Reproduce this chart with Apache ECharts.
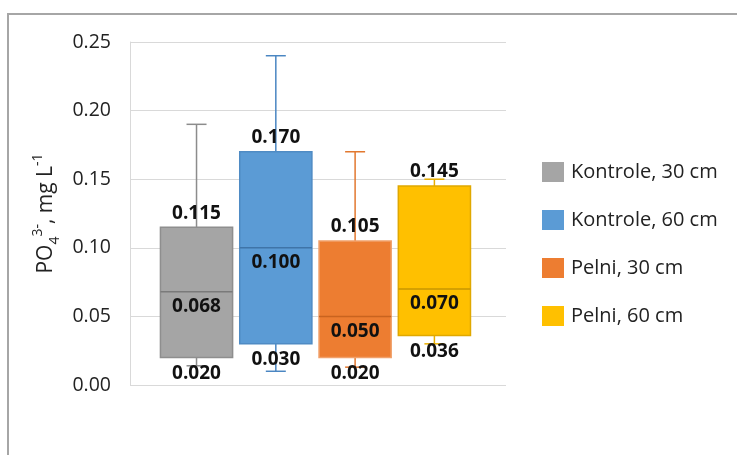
<!DOCTYPE html>
<html>
<head>
<meta charset="utf-8">
<script src="https://cdn.jsdelivr.net/npm/echarts@6/dist/echarts.min.js"></script>
<style>
html,body{margin:0;padding:0;background:#fff;}
#chart{width:737px;height:455px;}
</style>
</head>
<body>
<div id="chart"></div>
<script>
// ---- data ----
const categories = ['Kontrole, 30 cm', 'Kontrole, 60 cm', 'Pelni, 30 cm', 'Pelni, 60 cm'];
const minVals    = [0.014, 0.010, 0.013, 0.030];
const q1Vals     = [0.020, 0.030, 0.020, 0.036];
const medianVals = [0.068, 0.100, 0.050, 0.070];
const q3Vals     = [0.115, 0.170, 0.105, 0.145];
const maxVals    = [0.190, 0.240, 0.170, 0.150];
const yMin = 0, yMax = 0.25, yStep = 0.05;

// ---- styles ----
const fills   = ['#A5A5A5', '#5B9BD5', '#ED7D31', '#FFC000'];
const borders = ['#8E8E8E', '#4F8BC4', '#F1A06A', '#E0A800'];
const medians = ['#7A7A7A', '#3F74A8', '#C9631F', '#C99700'];
const whisk   = ['#8C8C8C', '#4A86C2', '#E2782F', '#E8AE00'];

const chart = echarts.init(document.getElementById('chart'), null, {renderer: 'canvas'});

function makeRender(idx) {
  return function (params, api) {
    const x = api.value(0);
    const pMin = api.coord([x, api.value(1)]);
    const pQ1 = api.coord([x, api.value(2)]);
    const pMed = api.coord([x, api.value(3)]);
    const pQ3 = api.coord([x, api.value(4)]);
    const pMax = api.coord([x, api.value(5)]);
    const cx = pQ1[0];
    const half = api.size([1, 0])[0] * 0.455;
    const cap = 10;
    const wStyle = {stroke: whisk[idx], lineWidth: 1.5};
    const lbl = (v, y) => ({
      type: 'text', z2: 10,
      style: {
        x: cx, y: y, text: v.toFixed(3), align: 'center', verticalAlign: 'middle',
        font: 'bold 19px "Open Sans", sans-serif', fill: '#111'
      }
    });
    return {
      type: 'group',
      children: [
        {type: 'line', shape: {x1: cx, y1: pQ3[1], x2: cx, y2: pMax[1]}, style: wStyle},
        {type: 'line', shape: {x1: cx - cap, y1: pMax[1], x2: cx + cap, y2: pMax[1]}, style: wStyle},
        {type: 'line', shape: {x1: cx, y1: pQ1[1], x2: cx, y2: pMin[1]}, style: wStyle},
        {type: 'line', shape: {x1: cx - cap, y1: pMin[1], x2: cx + cap, y2: pMin[1]}, style: wStyle},
        {type: 'rect', shape: {x: cx - half, y: pQ3[1], width: half * 2, height: pQ1[1] - pQ3[1]},
          style: {fill: fills[idx], stroke: borders[idx], lineWidth: 1.5}},
        {type: 'line', shape: {x1: cx - half, y1: pMed[1], x2: cx + half, y2: pMed[1]},
          style: {stroke: medians[idx], lineWidth: 1.5}},
        lbl(api.value(4), pQ3[1] - 14),
        lbl(api.value(3), pMed[1] + 15),
        lbl(api.value(2), pQ1[1] + 16)
      ]
    };
  };
}

const series = categories.map((name, i) => ({
  name: name,
  type: 'custom',
  itemStyle: {color: fills[i], borderColor: borders[i]},
  renderItem: makeRender(i),
  encode: {x: 0, y: [1, 2, 3, 4, 5]},
  data: [[i + 1, minVals[i], q1Vals[i], medianVals[i], q3Vals[i], maxVals[i]]]
}));

chart.setOption({
  animation: false,
  backgroundColor: '#fff',
  grid: {left: 130, top: 42, width: 376, height: 343},
  xAxis: {
    type: 'value', min: 0.161, max: 4.903,
    show: false
  },
  yAxis: {
    type: 'value', min: yMin, max: yMax, interval: yStep,
    axisLine: {show: true, lineStyle: {color: '#D9D9D9', width: 1}},
    axisTick: {show: false},
    splitLine: {show: true, lineStyle: {color: '#D9D9D9', width: 1}},
    axisLabel: {
      formatter: v => v.toFixed(2), margin: 19,
      fontFamily: '"Open Sans", sans-serif', fontSize: 19.5, color: '#222'
    },
    name: 'PO{sub|4}{sup|3-}, mg L{sup|-1}',
    nameLocation: 'middle',
    nameGap: 71,
    nameTextStyle: {
      fontFamily: '"Open Sans", sans-serif', fontSize: 21, color: '#222',
      rich: {
        sub: {fontSize: 14, fontFamily: '"Open Sans", sans-serif', color: '#222', verticalAlign: 'bottom', lineHeight: 14, padding: [0, 0, -5, 0]},
        sup: {fontSize: 14, fontFamily: '"Open Sans", sans-serif', color: '#222', verticalAlign: 'top', lineHeight: 14, padding: [-5, 0, 0, 0]}
      }
    }
  },
  legend: {
    orient: 'vertical', left: 537, top: 157,
    itemWidth: 22, itemHeight: 20, itemGap: 28,
    icon: 'rect',
    textStyle: {fontFamily: '"Open Sans", sans-serif', fontSize: 20, color: '#222', padding: [0, 0, 0, 2]},
    data: categories
  },
  graphic: [{
    type: 'polyline',
    shape: {points: [[8, 460], [8, 14], [740, 14]]},
    style: {stroke: '#A6A6A6', lineWidth: 2, fill: null}
  }],
  series: series
});
</script>
</body>
</html>
